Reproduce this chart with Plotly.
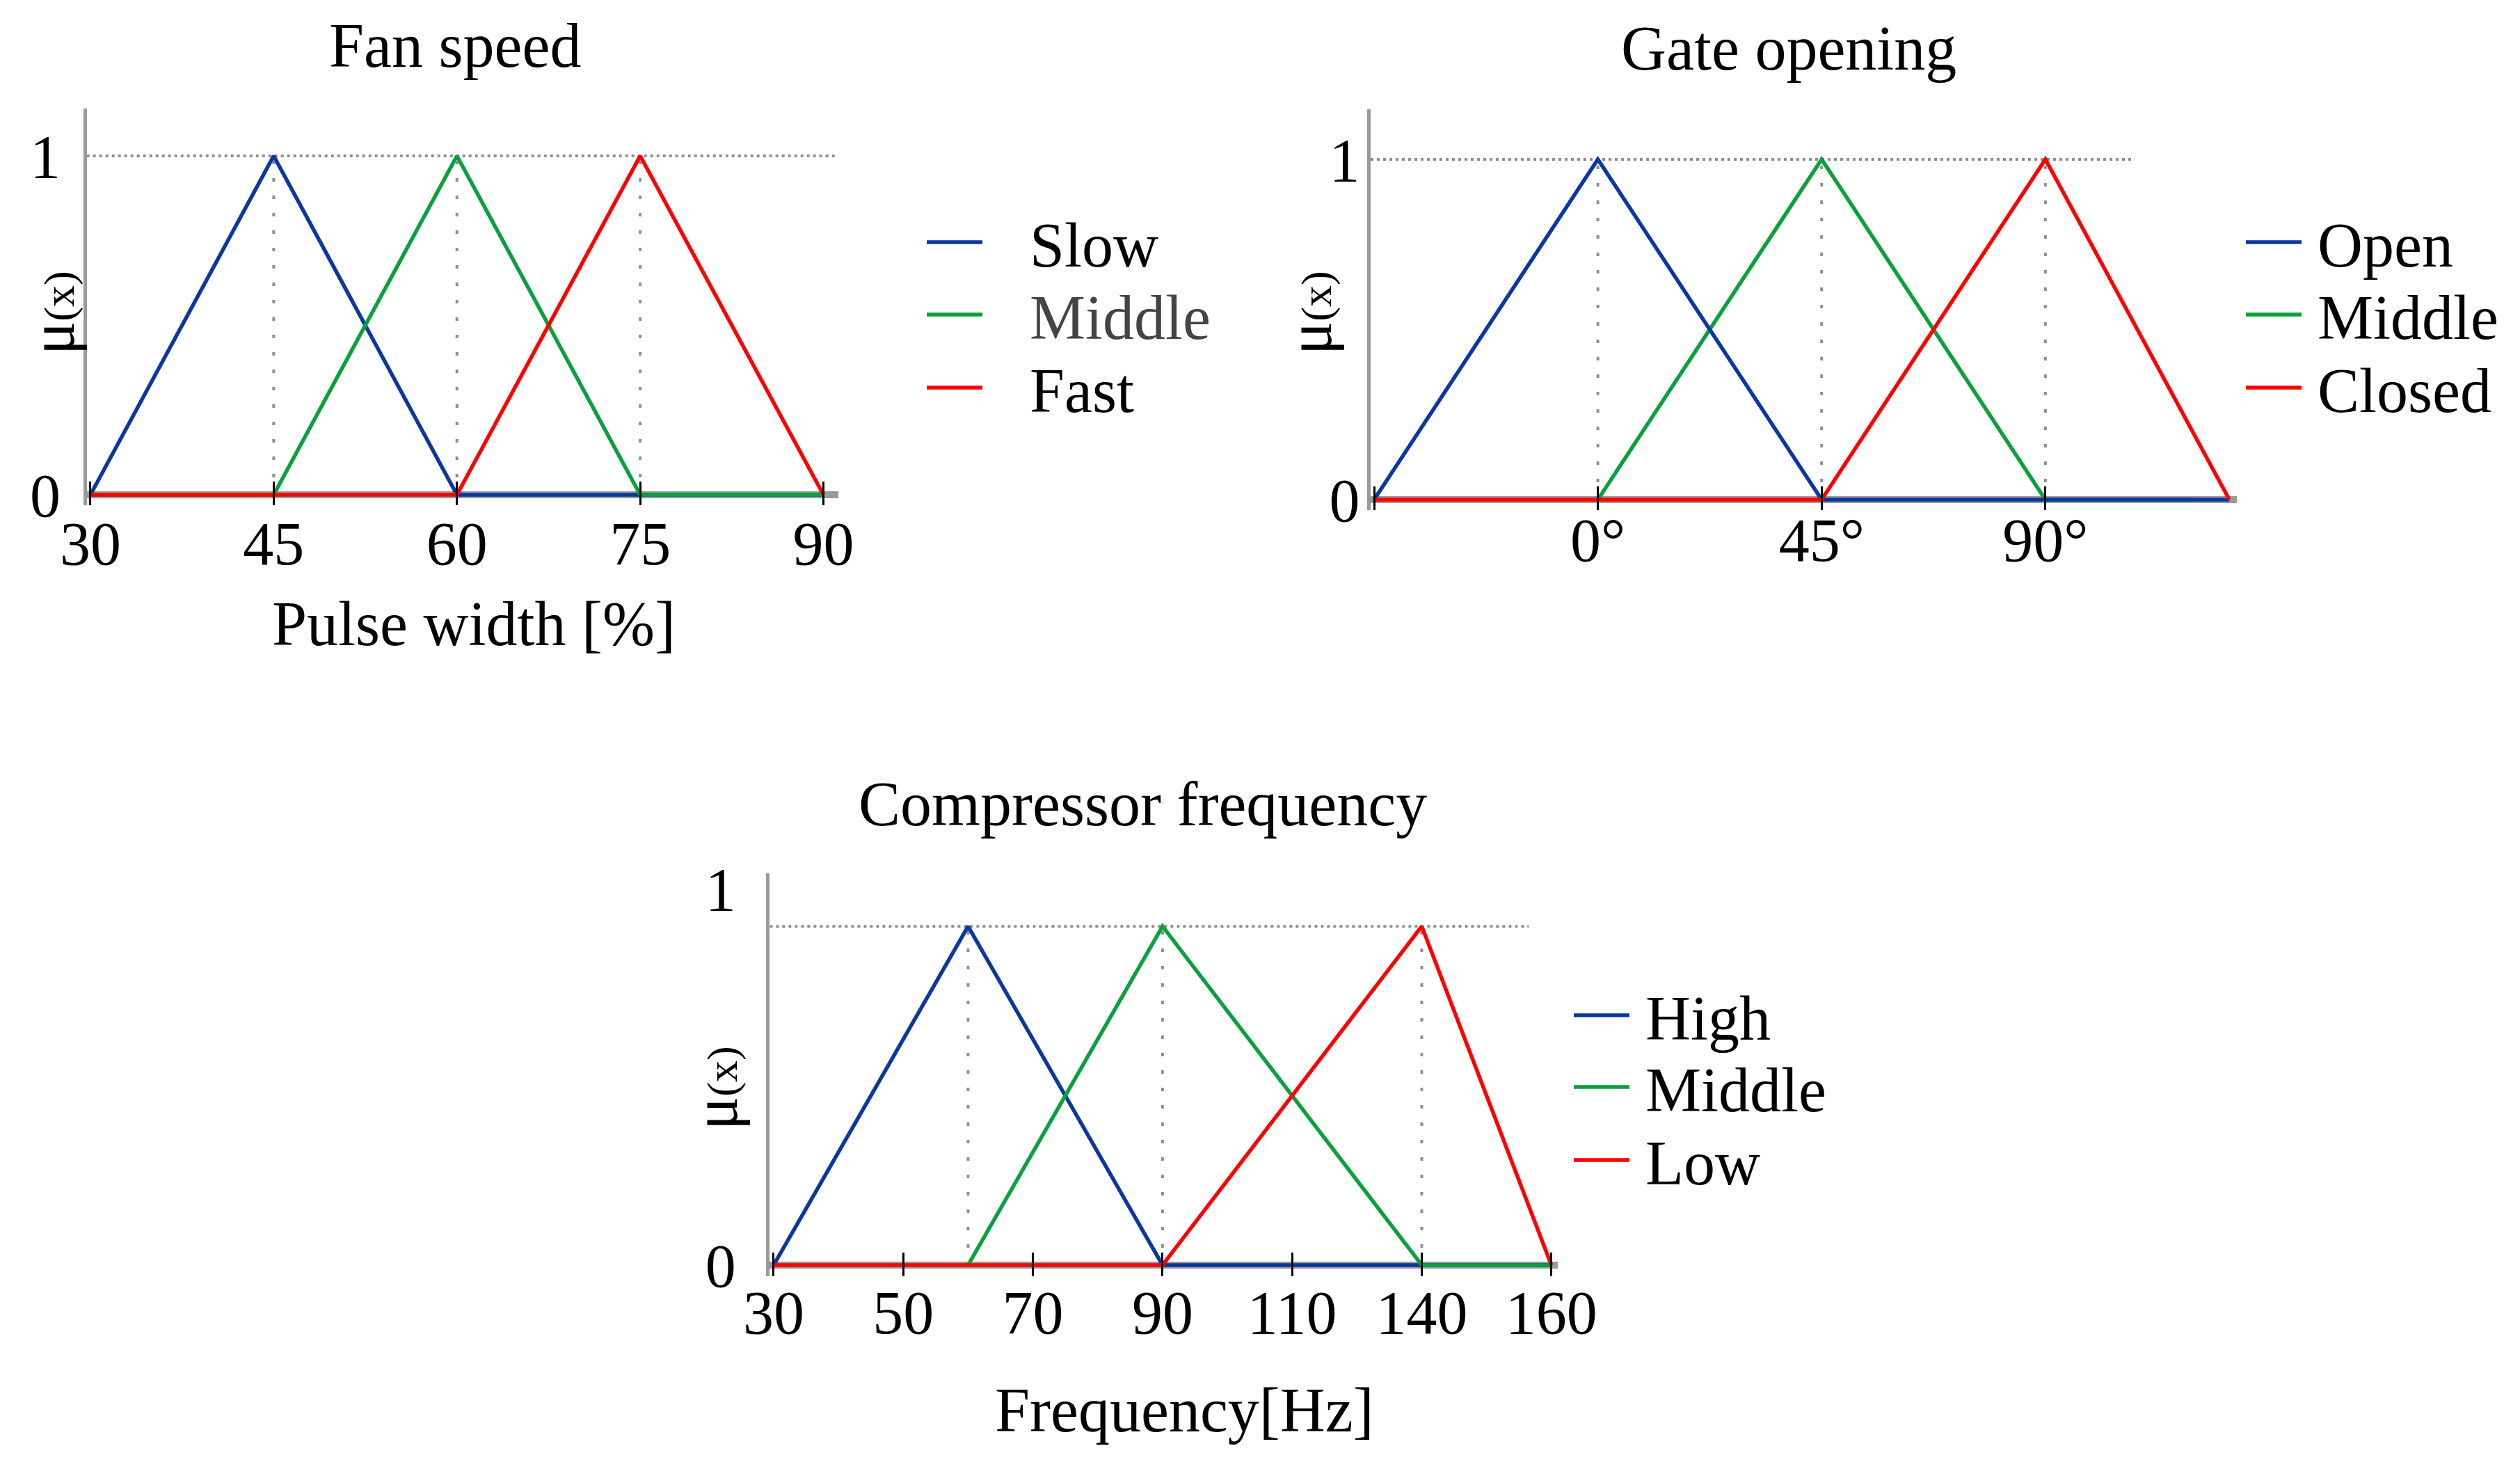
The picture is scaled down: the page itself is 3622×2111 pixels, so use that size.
import numpy as np
import plotly.graph_objects as go

W, H = 3622, 2111
FONT = "Liberation Serif"
BLUE = "#0a37a0"
GREEN = "#0aa03c"
RED = "#ff0000"
GRAY = "#9a9a9a"
DOTGRAY = "#8f8f8f"
OFFX_TXT = 8   # offsets compensating the page placement (px)
OFFX_AX = 3
OFFY = 8

# ---------------- data ----------------
# Fan speed (Pulse width [%])
fan_ticks = [30, 45, 60, 75, 90]
fan_names = ["Slow", "Middle", "Fast"]
fan_x = [[30, 45, 60, 90], [30, 45, 60, 75, 90], [30, 60, 75, 90]]
fan_y = [[0, 1, 0, 0], [0, 0, 1, 0, 0], [0, 0, 1, 0]]
fan_peaks = [45, 60, 75]
fan_ref_end = 91

# Gate opening (degrees)
gate_ticks = [-45, 0, 45, 90]
gate_ticklabels = ["", "0°", "45°", "90°"]
gate_names = ["Open", "Middle", "Closed"]
gate_x = [[-45, 0, 45, 127], [0, 45, 90, 120], [-45, 45, 90, 127]]
gate_y = [[0, 1, 0, 0], [0, 1, 0, 0], [0, 0, 1, 0]]
gate_peaks = [0, 45, 90]
gate_ref_end = 108

# Compressor frequency [Hz]
comp_ticks = [30, 50, 70, 90, 110, 140, 160]
comp_names = ["High", "Middle", "Low"]
comp_x = [[30, 60, 90, 160], [60, 90, 140, 160], [30, 90, 140, 160]]
comp_y = [[0, 0.9, 0, 0], [0, 0.9, 0, 0], [0, 0, 0.9, 0]]
comp_peaks = [60, 90, 140]
comp_peak_level = 0.9
comp_ref_end = 156.5

colors = [BLUE, GREEN, RED]


def comp_scale(v):
    # evenly spaced tick scale of the original figure
    return np.interp(v, comp_ticks, np.arange(len(comp_ticks)))


def px(x):
    return (x - OFFX_TXT) / W


def pxa(x):
    return (x - OFFX_AX) / W


def py(y):
    return 1 - (y - OFFY) / H


fig = go.Figure()


def add_refs(xa, ya, peaks, level, x0, x1, scale=lambda v: v):
    xs, ys = [], []
    for p in peaks:
        xs += [scale(p), scale(p), None]
        ys += [0, level, None]
    fig.add_trace(go.Scatter(x=xs, y=ys, mode="lines", xaxis=xa, yaxis=ya,
                             line=dict(color=DOTGRAY, width=4, dash="5px,20px"),
                             showlegend=False, hoverinfo="skip"))
    fig.add_trace(go.Scatter(x=[x0, scale(x1)], y=[level, level], mode="lines",
                             xaxis=xa, yaxis=ya,
                             line=dict(color=DOTGRAY, width=4, dash="4px,5px"),
                             showlegend=False, hoverinfo="skip"))


FAN_GAP = "\u2002\u2009"
GAP = "\u2009"

# Fan speed panel
add_refs("x", "y", fan_peaks, 1, 29.7, fan_ref_end)
for i in range(3):
    fig.add_trace(go.Scatter(x=fan_x[i], y=fan_y[i], mode="lines",
                             name=FAN_GAP + fan_names[i],
                             line=dict(color=colors[i], width=5.5),
                             xaxis="x", yaxis="y", legend=f"legend{i+1 if i else ''}"))

# Gate opening panel (draw Middle first so Open covers it on the baseline)
add_refs("x2", "y2", gate_peaks, 1, -45.7, gate_ref_end)
for i in [1, 0, 2]:
    fig.add_trace(go.Scatter(x=gate_x[i], y=gate_y[i], mode="lines",
                             name=GAP + gate_names[i],
                             line=dict(color=colors[i], width=5.5),
                             xaxis="x2", yaxis="y2", legend=f"legend{4+i}"))

# Compressor panel
add_refs("x3", "y3", comp_peaks, comp_peak_level, -0.03, comp_ref_end, comp_scale)
for i in range(3):
    fig.add_trace(go.Scatter(x=comp_scale(comp_x[i]), y=comp_y[i], mode="lines",
                             name=GAP + comp_names[i],
                             line=dict(color=colors[i], width=5.5),
                             xaxis="x3", yaxis="y3", legend=f"legend{7+i}"))

tickfont = dict(family=FONT, size=88, color="black")
xcommon = dict(showgrid=False, zeroline=False, showline=False, ticks="inside",
               ticklen=34, tickwidth=3, tickcolor="black", tickfont=tickfont,
               fixedrange=True, automargin=False)
ycommon = dict(showgrid=False, showline=True, linecolor=GRAY, linewidth=5,
               zeroline=True, zerolinecolor=GRAY, zerolinewidth=10,
               ticks="", tickfont=tickfont, tickvals=[0, 1], ticktext=["0", "1"],
               fixedrange=True, automargin=False)

fig.update_layout(
    width=W, height=H,
    margin=dict(l=0, r=0, t=0, b=0, autoexpand=False),
    paper_bgcolor="white", plot_bgcolor="white",
    font=dict(family=FONT, size=90, color="black"),
    xaxis=dict(domain=[pxa(119.7), pxa(1199.6)], range=[29.7, 91.2],
               tickvals=fan_ticks, anchor="y", ticklabelstandoff=-4, **xcommon),
    yaxis=dict(domain=[py(725.6), py(155.8)], range=[-0.03, 1.14], anchor="x",
               ticklabelstandoff=15, **ycommon),
    xaxis2=dict(domain=[pxa(1965), pxa(3210)], range=[-45.7, 128.5],
                tickvals=gate_ticks, ticktext=gate_ticklabels, anchor="y2",
                ticklabelstandoff=-16, **xcommon),
    yaxis2=dict(domain=[py(732.7), py(157)], range=[-0.03, 1.147], anchor="x2",
                ticklabelstandoff=-7, **ycommon),
    xaxis3=dict(domain=[pxa(1101.4), pxa(2234.1)], range=[-0.03, 6.05],
                tickvals=list(range(len(comp_ticks))),
                ticktext=[str(t) for t in comp_ticks], anchor="y3",
                ticklabelstandoff=-7, **xcommon),
    yaxis3=dict(domain=[py(1834.2), py(1255.4)], range=[-0.03, 1.04], anchor="x3",
                ticklabelstandoff=26, **ycommon),
)

legend_style = dict(bgcolor="rgba(0,0,0,0)", borderwidth=0, itemwidth=80,
                    xanchor="left", yanchor="middle",
                    font=dict(family=FONT, size=90, color="black"))
leg_pos = {
    "legend": (1327, 348), "legend2": (1327, 452), "legend3": (1327, 557),
    "legend4": (3223, 348), "legend5": (3223, 452), "legend6": (3223, 557),
    "legend7": (2257, 1459), "legend8": (2257, 1562), "legend9": (2257, 1667),
}
for key, (lx, ly) in leg_pos.items():
    st = dict(legend_style)
    if key == "legend2":
        st["font"] = dict(family=FONT, size=90, color="#444444")
    fig.update_layout({key: dict(x=px(lx), y=py(ly), **st)})

ann_font = dict(family=FONT, size=90, color="black")
texts = [
    ("Fan speed", 654, 65),
    ("Gate opening", 2571, 69),
    ("Compressor frequency", 1642, 1155),
    ("Pulse width [%]", 681, 896),
    ("Frequency[Hz]", 1702, 2026),
]
for t, x, y in texts:
    fig.add_annotation(text=t, x=px(x), y=py(y), xref="paper", yref="paper",
                       xanchor="center", yanchor="middle", showarrow=False, font=ann_font)

mu = "μ<span style='font-size:62px'>(x)</span>"
for x, y in [(76, 450), (1883, 450), (1028, 1564)]:
    fig.add_annotation(text=mu, x=px(x), y=py(y), xref="paper", yref="paper",
                       xanchor="center", yanchor="middle", showarrow=False,
                       textangle=-90, font=ann_font)

fig.write_html("out.html")
